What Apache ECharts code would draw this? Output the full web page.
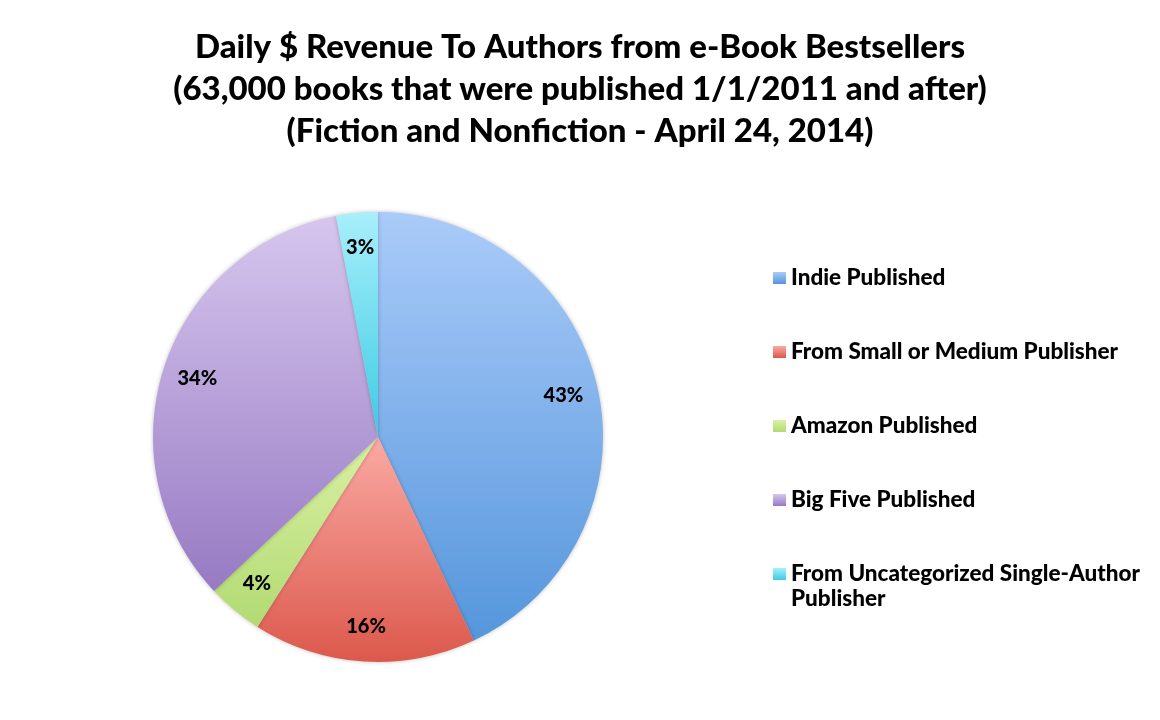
<!DOCTYPE html>
<html lang="en">
<head>
    <meta charset="UTF-8">
    <title>Daily $ Revenue To Authors from e-Book Bestsellers</title>
    <style>
        html, body { margin: 0; padding: 0; background: #fff; }
        #pieId { width: 1160px; height: 720px; }
    </style>
</head>
<body>
<div id="pieId"></div>
<script src="https://cdn.jsdelivr.net/npm/echarts@6/dist/echarts.min.js"></script>
<script>
    // data
    var categories = ['Indie Published', 'From Small or Medium Publisher', 'Amazon Published', 'Big Five Published', 'From Uncategorized Single-Author Publisher'];
    var shares = [43, 16, 4, 34, 3];
    var titleLines = [
        'Daily $ Revenue To Authors from e-Book Bestsellers',
        '(63,000 books that were published 1/1/2011 and after)',
        '(Fiction and Nonfiction - April 24, 2014)'
    ];

    // light top -> dark bottom, like the spreadsheet look
    var shades = [
        ['#aacbf9', '#5596dc'],
        ['#faaaa3', '#dc584c'],
        ['#d9f0a4', '#b2da72'],
        ['#d6c6ee', '#977ac3'],
        ['#a8effb', '#3ccbe3']
    ];

    var font = 'Lato';
    var weight = 900;

    function grad(i) {
        return new echarts.graphic.LinearGradient(0, 0, 0, 1, [
            {offset: 0, color: shades[i][0]},
            {offset: 1, color: shades[i][1]}
        ]);
    }

    var pieData = categories.map(function (name, i) {
        return {name: name, value: shares[i], itemStyle: {color: grad(i)}};
    });
    var labelData = categories.map(function (name, i) {
        return {name: name, value: shares[i]};
    });

    var chart = echarts.init(document.getElementById('pieId'));

    var option = {
        animation: false,
        title: {
            text: titleLines.join('\n'),
            left: 'center',
            top: 21,
            textStyle: {
                fontFamily: font,
                fontWeight: weight,
                fontSize: 33,
                lineHeight: 42,
                color: '#000'
            }
        },
        legend: {
            orient: 'vertical',
            left: 768,
            top: 260,
            itemWidth: 13,
            itemHeight: 12,
            itemGap: 48,
            itemStyle: {borderWidth: 0},
            icon: 'rect',
            data: categories,
            formatter: function (name) {
                return name === categories[4] ? 'From Uncategorized Single-Author' : name;
            },
            textStyle: {
                fontFamily: font,
                fontWeight: weight,
                fontSize: 22.5,
                lineHeight: 26,
                color: '#000'
            }
        },
        graphic: [{
            type: 'text',
            left: 791,
            top: 587,
            style: {
                text: 'Publisher',
                fontFamily: font,
                fontWeight: weight,
                fontSize: 22.5,
                fill: '#000'
            }
        }],
        series: [{
            name: 'Revenue',
            type: 'pie',
            center: [378, 437],
            radius: 225,
            startAngle: 90,
            clockwise: true,
            label: {show: false},
            labelLine: {show: false},
            itemStyle: {
                shadowBlur: 4,
                shadowColor: 'rgba(0,0,0,0.25)'
            },
            data: pieData
        }, {
            // transparent ring only used to put the % labels near the rim
            name: 'labels',
            type: 'pie',
            silent: true,
            center: [378, 437],
            radius: [156, 218],
            startAngle: 90,
            clockwise: true,
            itemStyle: {color: 'rgba(0,0,0,0)'},
            label: {
                show: true,
                position: 'inside',
                formatter: '{c}%',
                fontFamily: font,
                fontWeight: weight,
                fontSize: 20,
                color: '#000'
            },
            labelLine: {show: false},
            emphasis: {disabled: true},
            data: labelData
        }]
    };

    chart.setOption(option);
</script>
</body>
</html>
